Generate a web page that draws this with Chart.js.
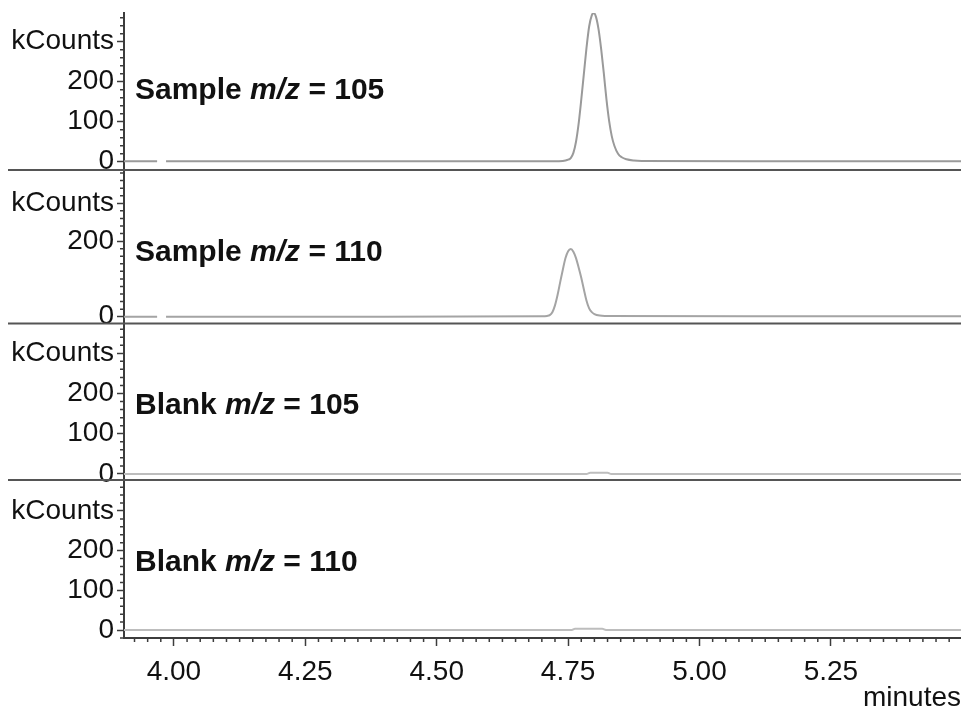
<!DOCTYPE html>
<html>
<head>
<meta charset="utf-8">
<title>Sample / Blank chromatograms</title>
<script src="https://cdn.jsdelivr.net/npm/chart.js@4.4.0/dist/chart.umd.min.js"></script>
<style>
  html, body { margin: 0; padding: 0; background: #fff; }
  #wrap { position: relative; width: 961px; height: 712px; }
</style>
</head>
<body>
<div id="wrap"><canvas id="chart"></canvas></div>
<script>
// traces: time in minutes, signal in kCounts (null = gap in the trace)
const sample105Time   = [3.905, 3.968, 3.976, 3.985, 4.40, 4.70, 4.740, 4.745, 4.750, 4.755, 4.760, 4.765, 4.770, 4.775, 4.780, 4.785, 4.790, 4.795, 4.799, 4.803, 4.808, 4.813, 4.818, 4.823, 4.828, 4.833, 4.838, 4.845, 4.852, 4.861, 4.875, 4.890, 5.10, 5.35, 5.4975];
const sample105Counts = [1, 1, null, 1, 1, 1, 2, 3, 5, 9, 22, 50, 95, 155, 220, 285, 338, 366, 372, 362, 330, 280, 220, 155, 102, 64, 40, 20, 11, 6, 3, 2, 1, 1, 1];

const sample110Time   = [3.905, 3.968, 3.976, 3.985, 4.40, 4.700, 4.710, 4.715, 4.720, 4.725, 4.730, 4.735, 4.740, 4.745, 4.750, 4.755, 4.760, 4.765, 4.770, 4.775, 4.780, 4.785, 4.790, 4.795, 4.800, 4.810, 4.820, 5.10, 5.4975];
const sample110Counts = [0, 0, null, 0, 0, 1, 2, 4, 12, 30, 58, 92, 125, 155, 173, 179, 172, 155, 130, 103, 72, 42, 22, 12, 7, 3, 2, 1, 1];

const blank105Time   = [3.905, 4.785, 4.792, 4.825, 4.832, 5.4975];
const blank105Counts = [0, 0, 3, 3, 0, 0];

const blank110Time   = [3.905, 4.757, 4.763, 4.815, 4.822, 5.4975];
const blank110Counts = [0, 0, 3, 3, 0, 0];

const panelTitles = ['Sample', 'Sample', 'Blank', 'Blank'];
const panelMz     = ['105', '110', '105', '110'];
const yTickValues = [[0, 100, 200, 300], [0, 200, 300], [0, 100, 200, 300], [0, 100, 200, 300]];
const xTickValues = [4.00, 4.25, 4.50, 4.75, 5.00, 5.25];

// axis ranges and look
const yRanges = [[-20.75, 371.75], [-18, 388], [-15, 374], [-20, 378]];
const panelHeights = [157, 153.5, 156.5, 158];
const labelDrop = [17, 20, 20, 20];   // label baseline, px below the 200 tick
const traceColors = ['#9a9a9a', '#a4a4a4', '#bdbdbd', '#bdbdbd'];
const axisColor = '#3c3c3c';
const textColor = '#111';
const tickFont = "'Liberation Sans', Arial, sans-serif";
const boldFont = "'Liberation Sans', Arial, sans-serif";

const panelIds = ['y1', 'y2', 'y3', 'y4'];
const series = [
  [sample105Time, sample105Counts],
  [sample110Time, sample110Counts],
  [blank105Time, blank105Counts],
  [blank110Time, blank110Counts]
];

const datasets = series.map(([t, c], i) => ({
  label: panelTitles[i] + ' m/z = ' + panelMz[i],
  data: t.map((x, k) => ({x: x, y: c[k]})),
  yAxisID: panelIds[i],
  xAxisID: 'x',
  borderColor: traceColors[i],
  borderWidth: 2,
  pointRadius: 0,
  cubicInterpolationMode: 'monotone',
  spanGaps: false
}));

const scales = {
  x: {
    type: 'linear',
    position: 'bottom',
    min: 3.905,
    max: 5.4975,
    border: {color: axisColor, width: 2},
    grid: {drawOnChartArea: false, tickLength: 8, tickColor: axisColor, tickWidth: 1.5},
    ticks: {
      autoSkip: false, maxRotation: 0, padding: 9, color: textColor,
      font: {family: tickFont, size: 28, lineHeight: 1.2},
      callback: v => v.toFixed(2)
    },
    afterBuildTicks: s => { s.ticks = xTickValues.map(v => ({value: v})); },
    title: {
      display: true, text: 'minutes', align: 'end', color: textColor, padding: 0,
      font: {family: tickFont, size: 28, lineHeight: 1}
    },
    afterFit: s => { s.height = 74; s.paddingLeft = 0; s.paddingRight = 0; }
  }
};

panelIds.forEach((id, i) => {
  scales[id] = {
    type: 'linear',
    position: 'left',
    stack: 'panels',
    stackWeight: panelHeights[i],
    weight: 4 - i,
    min: yRanges[i][0],
    max: yRanges[i][1],
    border: {color: axisColor, width: 2},
    grid: {drawOnChartArea: false, tickLength: 7, tickColor: axisColor, tickWidth: 1.5},
    ticks: {
      autoSkip: false, padding: 3, color: textColor,
      font: {family: tickFont, size: 28, lineHeight: 1.2},
      callback: v => v === 300 ? 'kCounts' : v
    },
    afterBuildTicks: s => { s.ticks = yTickValues[i].map(v => ({value: v})); },
    afterFit: s => { s.width = 124; s.paddingTop = 0; s.paddingBottom = 0; }
  };
});

// short unlabelled ticks: every 20 kCounts and every 0.025 min
const minorTicks = {
  id: 'minorTicks',
  afterDraw(chart) {
    const ctx = chart.ctx;
    ctx.save();
    ctx.strokeStyle = axisColor;
    ctx.lineWidth = 1.5;
    ctx.beginPath();
    panelIds.forEach((id, i) => {
      const s = chart.scales[id];
      for (let k = Math.ceil(s.min / 20); k * 20 <= s.max; k++) {
        if (yTickValues[i].includes(k * 20)) continue;
        const y = s.getPixelForValue(k * 20);
        ctx.moveTo(s.right - 4, y);
        ctx.lineTo(s.right, y);
      }
    });
    const xs = chart.scales.x;
    for (let k = Math.ceil(xs.min / 0.025); k * 0.025 <= xs.max; k++) {
      if (k % 10 === 0) continue;
      const x = xs.getPixelForValue(k * 0.025);
      ctx.moveTo(x, xs.top);
      ctx.lineTo(x, xs.top + 4);
    }
    ctx.stroke();
    ctx.restore();
  }
};

// panel separators and "Sample m/z = 105" style labels
const panelDecor = {
  id: 'panelDecor',
  afterDraw(chart) {
    const ctx = chart.ctx;
    ctx.save();
    ctx.strokeStyle = '#555';
    ctx.lineWidth = 2;
    panelIds.slice(0, 3).forEach(id => {
      const y = chart.scales[id].bottom;
      ctx.beginPath();
      ctx.moveTo(8, y);
      ctx.lineTo(chart.width, y);
      ctx.stroke();
    });
    ctx.fillStyle = textColor;
    ctx.textBaseline = 'alphabetic';
    panelIds.forEach((id, i) => {
      const s = chart.scales[id];
      let x = chart.scales.x.left + 11;
      const y = s.getPixelForValue(200) + labelDrop[i];
      const parts = [
        [panelTitles[i] + ' ', 'bold 30px ' + boldFont],
        ['m/z', 'italic bold 30px ' + boldFont],
        [' = ' + panelMz[i], 'bold 30px ' + boldFont]
      ];
      parts.forEach(([txt, f]) => {
        ctx.font = f;
        ctx.fillText(txt, x, y);
        x += ctx.measureText(txt).width;
      });
    });
    ctx.restore();
  }
};

new Chart(document.getElementById('chart'), {
  type: 'line',
  data: {datasets: datasets},
  options: {
    responsive: true,
    maintainAspectRatio: false,
    devicePixelRatio: 1,
    animation: false,
    layout: {padding: {top: 13, left: 0, right: 0, bottom: 0}},
    plugins: {legend: {display: false}, tooltip: {enabled: false}},
    scales: scales
  },
  plugins: [minorTicks, panelDecor]
});
</script>
</body>
</html>
